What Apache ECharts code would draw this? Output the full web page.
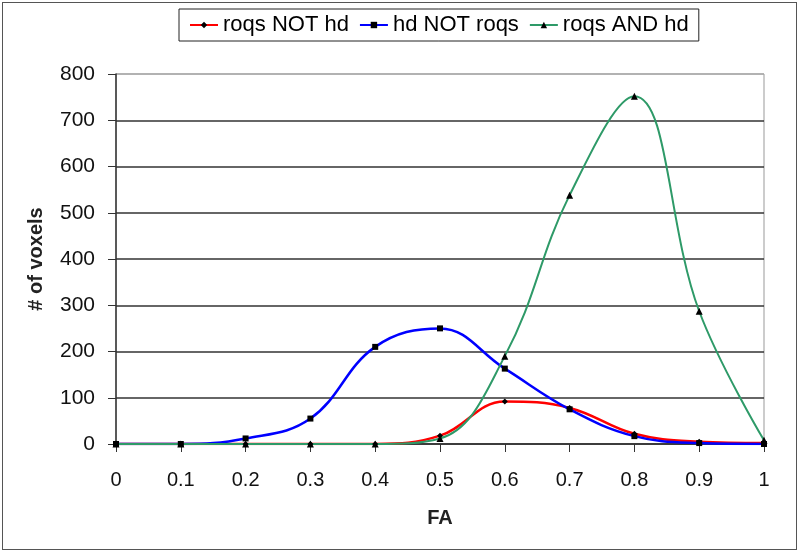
<!DOCTYPE html>
<html>
<head>
<meta charset="utf-8">
<script src="https://cdn.jsdelivr.net/npm/echarts@6/dist/echarts.min.js"></script>
<style>
  html, body { margin: 0; padding: 0; background: #fff; }
  #frame { position: absolute; left: 2px; top: 2px; width: 795px; height: 548px; border: 1px solid #555; box-sizing: border-box; }
  #chart { width: 800px; height: 554px; }
</style>
</head>
<body>
<div id="frame"></div>
<div id="chart"></div>
<script>
// FA bins
const faValues = [0, 0.1, 0.2, 0.3, 0.4, 0.5, 0.6, 0.7, 0.8, 0.9, 1]
// voxel counts per series
const roqsNotHd = [0, 0, 0, 0, 0, 18, 92, 78, 22, 5, 2]
const hdNotRoqs = [0, 0, 12, 55, 210, 250, 163, 75, 17, 2, 0]
const roqsAndHd = [0, 0, 0, 0, 0, 12, 190, 538, 752, 287, 8]
const seriesNames = ['roqs NOT hd', 'hd NOT roqs', 'roqs AND hd']

const pairs = (ys) => faValues.map((x, i) => [x, ys[i]])

const font = 'Liberation Sans, Arial, sans-serif'

const makeSeries = (name, ys, color, width, symbol, size) => ({
  name,
  type: 'line',
  smooth: 0.4,
  data: pairs(ys),
  symbol,
  symbolSize: size,
  lineStyle: { color, width },
  itemStyle: { color: '#000' },
  emphasis: { disabled: true }
})

const chart = echarts.init(document.getElementById('chart'))
chart.setOption({
  animation: false,
  textStyle: { fontFamily: font },
  legend: {
    top: 9,
    left: 179,
    data: seriesNames,
    itemWidth: 28,
    itemHeight: 8,
    itemGap: 10,
    padding: [5, 10],
    borderColor: '#222',
    borderWidth: 1,
    textStyle: { fontSize: 22, color: '#000', fontFamily: font }
  },
  grid: { left: 116, right: 36, top: 74, bottom: 110, show: true, borderColor: '#999', borderWidth: 1 },
  xAxis: {
    type: 'value',
    min: 0,
    max: 1,
    interval: 0.1,
    name: 'FA',
    nameLocation: 'middle',
    nameGap: 64,
    nameTextStyle: { fontSize: 20, fontWeight: 'bold', color: '#222' },
    axisLine: { lineStyle: { color: '#333', width: 1.5 } },
    axisTick: { show: true, length: 8, lineStyle: { color: '#333' } },
    axisLabel: { fontSize: 20, color: '#111', margin: 26 },
    splitLine: { show: false }
  },
  yAxis: {
    type: 'value',
    min: 0,
    max: 800,
    interval: 100,
    name: '# of voxels',
    nameLocation: 'middle',
    nameGap: 70,
    nameTextStyle: { fontSize: 20, fontWeight: 'bold', color: '#222' },
    axisLine: { show: true, lineStyle: { color: '#333', width: 1.5 } },
    axisTick: { show: true, length: 8, lineStyle: { color: '#333' } },
    axisLabel: { fontSize: 21, color: '#111', margin: 21 },
    splitLine: {
      lineStyle: {
        color: ['#333', '#333', '#333', '#333', '#333', '#333', '#333', '#333', '#aaa'],
        width: 1.5
      }
    }
  },
  series: [
    makeSeries(seriesNames[0], roqsNotHd, '#ff0000', 2.5, 'diamond', 6),
    makeSeries(seriesNames[1], hdNotRoqs, '#0000ff', 2.5, 'rect', 6),
    makeSeries(seriesNames[2], roqsAndHd, '#2e9a68', 2, 'triangle', 7)
  ]
})
</script>
</body>
</html>
